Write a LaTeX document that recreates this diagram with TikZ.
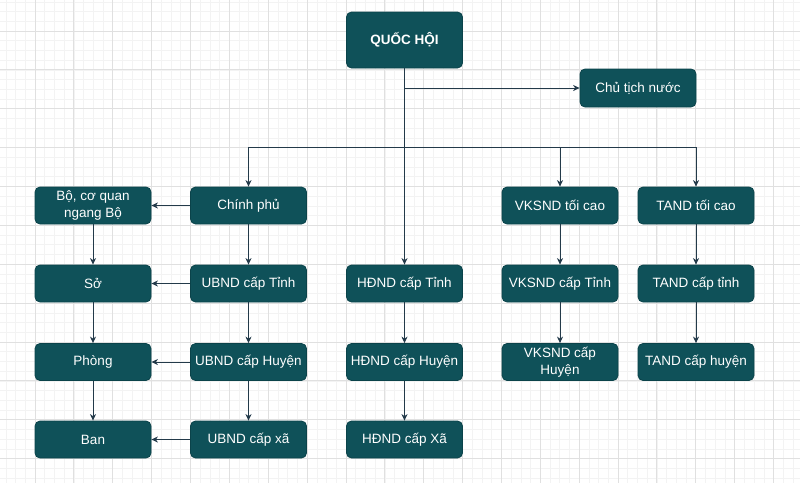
\documentclass[tikz,border=0pt]{standalone}
\usepackage{fontspec}
\setmainfont{Liberation Sans}
\usetikzlibrary{arrows.meta}
\definecolor{boxfill}{HTML}{0F5159}
\definecolor{boxline}{HTML}{0B434A}
\definecolor{linec}{HTML}{233A4A}
\definecolor{gridmaj}{HTML}{E0E0E0}
\definecolor{gridmin}{HTML}{F3F3F3}
\begin{document}
\begin{tikzpicture}[x=1pt,y=-1pt,
  box/.style={draw=boxline, fill=boxfill, rounded corners=5pt, minimum width=116pt, minimum height=37pt, text=white, font=\fontsize{13.5}{16.5}\selectfont, align=center, inner sep=1pt, line width=0.8pt},
  conn/.style={draw=linec, line width=1pt, -{Stealth[length=6.5pt,width=6pt,inset=2pt]}},
  ln/.style={draw=linec, line width=1pt}]
\useasboundingbox (0,0) rectangle (800,483);
\fill[white] (0,0) rectangle (800,483);
\foreach \i in {-4,...,80} {
  \draw[gridmin, line width=0.6pt] ({35+9.7175*\i},0) -- ({35+9.7175*\i},483);
}
\foreach \i in {-4,...,50} {
  \draw[gridmin, line width=0.6pt] (0,{31+9.7175*\i}) -- (800,{31+9.7175*\i});
}
\foreach \i in {-1,...,20} {
  \draw[gridmaj, line width=0.9pt] ({35+38.87*\i},0) -- ({35+38.87*\i},483);
}
\foreach \i in {-1,...,12} {
  \draw[gridmaj, line width=0.9pt] (0,{31+38.87*\i}) -- (800,{31+38.87*\i});
}
% nodes
\node[box, minimum height=56pt, font=\fontsize{13.5}{16.5}\selectfont\bfseries] (qh) at (404.5,40) {QUỐC HỘI};
\node[box, minimum height=38pt] (ct) at (638,88) {Chủ tịch nước};
\node[box] (bo) at (93,205.5) {Bộ, cơ quan\\ngang Bộ};
\node[box] (cp) at (248.5,205.5) {Chính phủ};
\node[box] (vt) at (560,205.5) {VKSND tối cao};
\node[box] (tt) at (696,205.5) {TAND tối cao};
\node[box] (so) at (93,283.5) {Sở};
\node[box] (ut) at (248.5,283.5) {UBND cấp Tỉnh};
\node[box] (ht) at (404.5,283.5) {HĐND cấp Tỉnh};
\node[box] (vkt) at (560,283.5) {VKSND cấp Tỉnh};
\node[box] (tat) at (696,283.5) {TAND cấp tỉnh};
\node[box] (ph) at (93,362) {Phòng};
\node[box] (uh) at (248.5,362) {UBND cấp Huyện};
\node[box] (hh) at (404.5,362) {HĐND cấp Huyện};
\node[box] (vkh) at (560,362) {VKSND cấp\\Huyện};
\node[box] (tah) at (696,362) {TAND cấp huyện};
\node[box] (ban) at (93,439.5) {Ban};
\node[box] (ux) at (248.5,439.5) {UBND cấp xã};
\node[box] (hx) at (404.5,439.5) {HĐND cấp Xã};
% connectors
\coordinate (j1) at (404.5,88);
\coordinate (bl) at (248.5,147);
\coordinate (bm) at (560,147);
\coordinate (br) at (696,147);
\draw[conn] (qh.south) -- (ht.north);
\draw[conn] (j1) -- (ct.west);
\draw[ln] (bl) -- (br);
\draw[conn] (bl) -- (cp.north);
\draw[conn] (bm) -- (vt.north);
\draw[conn] (br) -- (tt.north);
\draw[conn] (cp.west) -- (bo.east);
\draw[conn] (cp.south) -- (ut.north);
\draw[conn] (ut.west) -- (so.east);
\draw[conn] (ut.south) -- (uh.north);
\draw[conn] (uh.west) -- (ph.east);
\draw[conn] (uh.south) -- (ux.north);
\draw[conn] (ux.west) -- (ban.east);
\draw[conn] (bo.south) -- (so.north);
\draw[conn] (so.south) -- (ph.north);
\draw[conn] (ph.south) -- (ban.north);
\draw[conn] (ht.south) -- (hh.north);
\draw[conn] (hh.south) -- (hx.north);
\draw[conn] (vt.south) -- (vkt.north);
\draw[conn] (vkt.south) -- (vkh.north);
\draw[conn] (tt.south) -- (tat.north);
\draw[conn] (tat.south) -- (tah.north);
\end{tikzpicture}
\end{document}
